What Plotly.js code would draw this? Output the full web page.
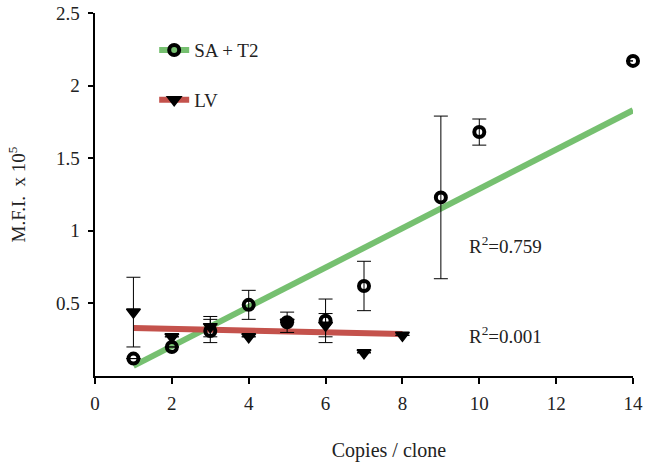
<!DOCTYPE html>
<html>
<head>
<meta charset="utf-8">
<script src="https://cdn.plot.ly/plotly-3.0.1.min.js"></script>
<style>html,body{margin:0;padding:0;background:#fff;}#chart{width:650px;height:462px;}</style>
</head>
<body>
<div id="chart"></div>
<script>
// SA + T2 series (open circles)
var saX = [1, 2, 3, 4, 5, 6, 7, 9, 10, 14];
var saY = [0.12, 0.20, 0.31, 0.49, 0.37, 0.38, 0.62, 1.23, 1.68, 2.17];
var saErr = [null, null, 0.08, 0.10, 0.07, 0.15, 0.17, 0.56, 0.09, null];

// LV series (filled down triangles)
var lvX = [1, 2, 3, 4, 5, 6, 7, 8];
var lvY = [0.44, 0.27, 0.34, 0.27, 0.37, 0.35, 0.16, 0.28];
var lvErr = [0.24, null, 0.07, null, null, 0.08, null, null];

// Linear trend lines (end points)
var saTrendX = [1, 14];
var saTrendY = [0.07, 1.83];
var lvTrendX = [1, 8];
var lvTrendY = [0.33, 0.29];

var saR2 = 'R<sup>2</sup>=0.759';
var lvR2 = 'R<sup>2</sup>=0.001';
var saName = 'SA + T2';
var lvName = 'LV';

var green = 'rgb(118,192,112)';
var red = 'rgb(196,82,76)';
var serif = '"Liberation Serif", "Times New Roman", serif';

var traces = [
  {x: saTrendX, y: saTrendY, mode: 'lines', line: {color: green, width: 6}, showlegend: false, hoverinfo: 'skip'},
  {x: lvTrendX, y: lvTrendY, mode: 'lines', line: {color: red, width: 6}, showlegend: false, hoverinfo: 'skip'},
  {x: lvX, y: lvY, mode: 'markers', showlegend: false, cliponaxis: false,
   marker: {symbol: 'triangle-down', size: 12, color: '#000', line: {width: 1.5, color: '#000'}},
   error_y: {type: 'data', array: lvErr, visible: true, color: '#000', thickness: 1, width: 7}},
  {x: saX, y: saY, mode: 'markers', showlegend: false, cliponaxis: false,
   marker: {symbol: 'circle-open', size: 10, color: '#000', line: {width: 4, color: '#000'}},
   error_y: {type: 'data', array: saErr, visible: true, color: '#000', thickness: 1, width: 7}},
  {x: [null], y: [null], name: saName, legendgroup: 'a', mode: 'lines+markers',
   line: {color: green, width: 6},
   marker: {symbol: 'circle', size: 10, color: green, line: {width: 4, color: '#000'}}},
  {x: [null], y: [null], name: lvName, legendgroup: 'b', mode: 'lines+markers',
   line: {color: red, width: 6},
   marker: {symbol: 'triangle-down', size: 12, color: '#000', line: {width: 1.5, color: '#000'}}}
];

var layout = {
  width: 650, height: 462,
  margin: {l: 95, r: 17, t: 13, b: 86},
  paper_bgcolor: '#fff', plot_bgcolor: '#fff',
  font: {family: serif, size: 19, color: '#222'},
  showlegend: true,
  legend: {x: 0.11, y: 0.95, xanchor: 'left', yanchor: 'top', bgcolor: 'rgba(0,0,0,0)',
           font: {family: serif, size: 19, color: '#222'}, tracegroupgap: 22, traceorder: 'grouped'},
  xaxis: {
    range: [0, 14], tickvals: [0, 2, 4, 6, 8, 10, 12, 14],
    showgrid: false, zeroline: false, showline: true, linecolor: '#000', linewidth: 2,
    ticks: 'outside', ticklen: 6, tickwidth: 2, tickcolor: '#000',
    tickfont: {family: serif, size: 19, color: '#222'}, ticklabelstandoff: 3,
    title: {text: '&nbsp;&nbsp;&nbsp;&nbsp;&nbsp;&nbsp;&nbsp;&nbsp;&nbsp;&nbsp;Copies / clone', font: {family: serif, size: 20, color: '#222'}, standoff: 30}
  },
  yaxis: {
    range: [0, 2.5], tickvals: [0.5, 1, 1.5, 2, 2.5],
    showgrid: false, zeroline: false, showline: true, linecolor: '#000', linewidth: 2.5,
    ticks: 'outside', ticklen: 5, tickwidth: 2, tickcolor: '#000',
    tickfont: {family: serif, size: 19, color: '#222'}, ticklabelstandoff: 4,
    title: {text: 'M.F.I.&nbsp;&nbsp;x 10<sup>5</sup>', font: {family: serif, size: 19, color: '#222'}, standoff: 26}
  },
  annotations: [
    {x: 9.68, y: 0.9, xref: 'x', yref: 'y', text: saR2, showarrow: false, xanchor: 'left', yanchor: 'middle',
     font: {family: serif, size: 19, color: '#222'}},
    {x: 9.68, y: 0.28, xref: 'x', yref: 'y', text: lvR2, showarrow: false, xanchor: 'left', yanchor: 'middle',
     font: {family: serif, size: 19, color: '#222'}}
  ]
};

Plotly.newPlot('chart', traces, layout, {displayModeBar: false, staticPlot: true});
</script>
</body>
</html>
